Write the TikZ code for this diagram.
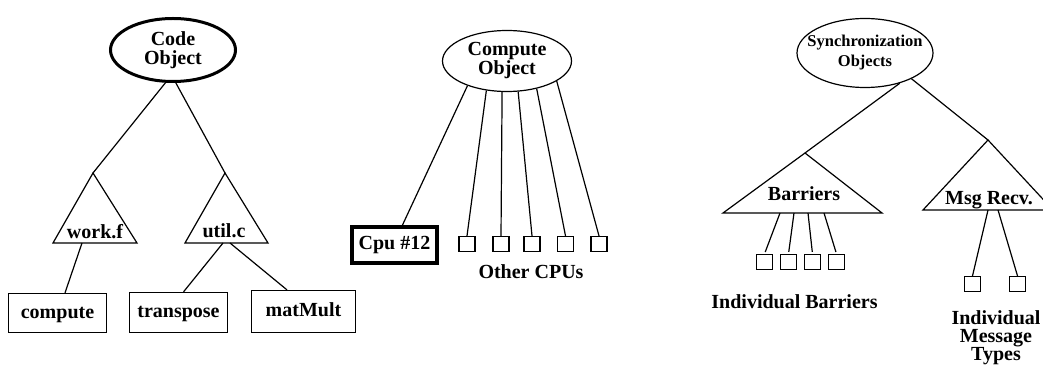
\documentclass[tikz,border=0pt]{standalone}
\usepackage{fontspec}
\setmainfont{Liberation Serif}
\usetikzlibrary{shapes.geometric,calc}
\begin{document}
\begin{tikzpicture}[x=1pt,y=-1pt,line width=1.2pt,
  txt/.style={font=\fontsize{20}{19}\selectfont\bfseries,inner sep=0pt,align=center},
  oval/.style={ellipse,draw,inner sep=0pt,txt},
  box/.style={draw,rectangle,inner sep=0pt,txt,text height=14pt,text depth=4pt},
  sq/.style={draw,rectangle,inner sep=0pt,minimum width=16pt,minimum height=15pt},
  tri/.style={draw,line join=miter}]
\useasboundingbox (0,0) rectangle (1043,371);
\clip (0,0) rectangle (1043,371);

% ---------- Code Object tree ----------
\node[oval,line width=3pt,minimum width=125pt,minimum height=63pt] (code) at (173,50) {Code\\Object};
\draw[tri] (93,173) coordinate (wf-top) -- (53,243) -- (137,243) -- cycle;
\coordinate (wf-out) at (82,243);
\node[txt,anchor=base] (wf) at (95,239) {work.f};
\draw[tri] (225,173) coordinate (uc-top) -- (185,243) -- (268,243) -- cycle;
\coordinate (uc-outa) at (223,243);
\coordinate (uc-outb) at (230,243);
\node[txt,anchor=base] (uc) at (224,237) {util.c};
\node[box,minimum width=98pt,minimum height=39pt] (compute) at (57.5,313) {compute};
\node[box,minimum width=98pt,minimum height=40pt] (transpose) at (178.5,312.5) {transpose};
\node[box,minimum width=104pt,minimum height=42pt] (matmult) at (303.5,311.5) {matMult};
\draw (code.257) -- (wf-top);
\draw (code.275) -- (uc-top);
\draw (wf-out) -- ([xshift=7.5pt]compute.north);
\draw (uc-outa) -- ([xshift=5pt]transpose.north);
\draw (uc-outb) -- ([xshift=-16.5pt]matmult.north);

% ---------- Compute Object tree ----------
\node[oval,minimum width=129pt,minimum height=61pt] (cobj) at (507,61) {Compute\\Object};
\node[box,line width=4pt,minimum width=85pt,minimum height=36pt] (cpu) at (394.5,245) {Cpu \#12};
\node[sq] (c1) at (467,244) {};
\node[sq] (c2) at (501,244) {};
\node[sq] (c3) at (532,244) {};
\node[sq] (c4) at (565.5,244) {};
\node[sq] (c5) at (599,244) {};
\node[txt,anchor=base] (other) at (531,278) {Other CPUs};
\draw (cobj.212) -- ([xshift=8pt]cpu.north);
\draw (cobj.235) -- (c1.north);
\draw (cobj.261) -- (c2.north);
\draw (cobj.290) -- (c3.north);
\draw (cobj.317) -- (c4.north);
\draw (cobj.338) -- (c5.north);

% ---------- Synchronization Objects tree ----------
\node[oval,font=\fontsize{16.5}{20}\selectfont\bfseries,inner xsep=-14pt,minimum width=136pt,minimum height=69pt] (sync) at (865,53) {Synchronization\\Objects};
\draw[tri] (805,153) coordinate (ba-top) -- (723,213) -- (882,213) -- cycle;
\node[txt,anchor=base] (ba) at (804,201) {Barriers};
\coordinate (ba-o1) at (780,213);
\coordinate (ba-o2) at (794,213);
\coordinate (ba-o3) at (808,213);
\coordinate (ba-o4) at (824,213);
\draw[tri] (988,140) coordinate (mr-top) -- (923,210) -- (1053,210) -- cycle;
\node[txt,anchor=base] (mr) at (989,205) {Msg Recv.};
\coordinate (mr-o1) at (988,210);
\coordinate (mr-o2) at (998,210);
\node[sq] (b1) at (764.5,262) {};
\node[sq] (b2) at (788.5,262) {};
\node[sq] (b3) at (812.5,262) {};
\node[sq] (b4) at (836.5,262) {};
\node[sq] (m1) at (972.5,284) {};
\node[sq] (m2) at (1017.5,284) {};
\node[txt,anchor=base] (ib) at (794.5,308) {Individual Barriers};
\node[txt,font=\fontsize{20}{18}\selectfont\bfseries,anchor=north] (imt) at (996,310) {Individual\\Message\\Types};
\draw (sync.319) -- (ba-top);
\draw (sync.331) -- (mr-top);
\draw[shorten >=2pt] (ba-o1) -- (b1.north);
\draw[shorten >=2pt] (ba-o2) -- (b2.north);
\draw[shorten >=2pt] (ba-o3) -- (b3.north);
\draw[shorten >=2pt] (ba-o4) -- (b4.north);
\draw (mr-o1) -- (m1.north);
\draw (mr-o2) -- (m2.north);
\end{tikzpicture}
\end{document}
